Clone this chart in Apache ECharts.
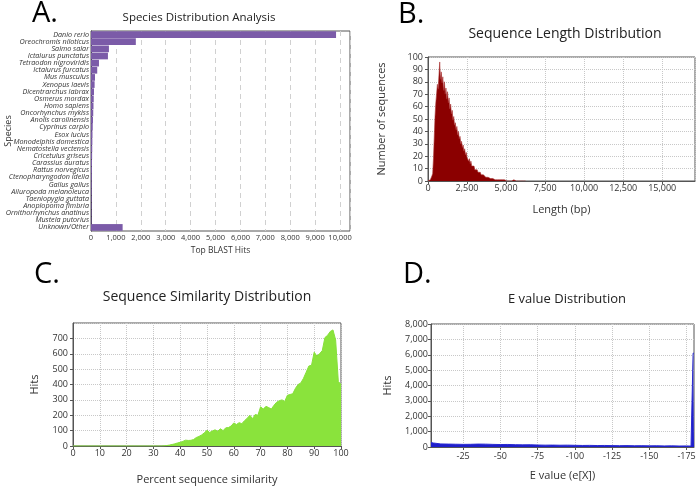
<!DOCTYPE html>
<html><head><meta charset="utf-8">
<script src="https://cdn.jsdelivr.net/npm/echarts@6/dist/echarts.min.js"></script>
<style>html,body{margin:0;padding:0;background:#fff}#c{width:700px;height:490px}</style>
</head><body><div id="c"></div>
<script>
// ---- Panel A: species distribution ----
var species = ["Danio rerio","Oreochromis niloticus","Salmo salar","Ictalurus punctatus","Tetraodon nigroviridis","Ictalurus furcatus","Mus musculus","Xenopus laevis","Dicentrarchus labrax","Osmerus mordax","Homo sapiens","Oncorhynchus mykiss","Anolis carolinensis","Cyprinus carpio","Esox lucius","Monodelphis domestica","Nematostella vectensis","Cricetulus griseus","Carassius auratus","Rattus norvegicus","Ctenopharyngodon idella","Gallus gallus","Ailuropoda melanoleuca","Taeniopygia guttata","Anoplopoma fimbria","Ornithorhynchus anatinus","Mustela putorius","Unknown/Other"];
var speciesHits = [9840,1800,720,680,320,250,160,145,120,110,100,90,80,70,60,55,50,45,40,38,35,32,30,28,26,24,22,1270];

// ---- Panel B: sequence length histogram (bin width 50 bp, starting at 0) ----
var lengthBinWidth = 50;
var lengthCounts = [0,0,0,1,2,4,6,18,35,52,63,70,78,74,85,96,82,88,79,84,73,80,70,75,66,72,63,67,58,62,54,57,49,52,45,47,41,44,37,40,34,36,30,32,27,29,24,26,21,23,19,20,16,18,14,16,12,13,11,12,9,10,8,9,7,8,6,7,5,6,5,5,4,5,3,4,3,3,2,3,2,3,2,2,1,2,1,2,1,1,1,1,1,1,0,1,1,0,1,0,1,0,0,1,0,0,1,0,0,0,1,0,0,0,0,0,0,1,0,0,0,0,0,0,0,0];

// ---- Panel C: sequence similarity (percent 0..100) ----
var similarityPct = [0,1,2,3,4,5,6,7,8,9,10,11,12,13,14,15,16,17,18,19,20,21,22,23,24,25,26,27,28,29,30,31,32,33,34,35,36,37,38,39,40,41,42,43,44,45,46,47,48,49,50,51,52,53,54,55,56,57,58,59,60,61,62,63,64,65,66,67,68,69,70,71,72,73,74,75,76,77,78,79,80,81,82,83,84,85,86,87,88,89,90,91,92,93,94,95,96,97,98,99,100];
var similarityHits = [0,0,0,0,0,0,0,0,0,0,0,0,0,0,0,0,0,0,0,0,0,0,0,0,0,0,0,0,0,0,0,0,0,0,1,3,6,10,14,20,24,30,38,36,37,42,55,62,72,85,103,88,98,105,96,112,100,118,120,130,150,140,152,145,165,180,200,178,205,200,255,240,258,250,240,265,285,295,300,290,330,335,340,375,400,410,440,480,520,525,610,585,600,620,705,720,745,755,690,420,400];

// ---- Panel D: E value distribution ----
var eExponent = [-3.4,-5,-10,-15,-20,-25,-30,-35,-40,-45,-50,-55,-60,-65,-70,-75,-80,-85,-90,-95,-100,-105,-110,-115,-120,-125,-130,-135,-140,-145,-150,-155,-160,-165,-170,-175,-178,-179,-179.4,-180];
var eHits = [290,260,200,190,180,170,175,190,185,170,160,165,150,140,145,130,120,125,115,120,110,100,105,95,100,90,85,90,80,85,75,80,70,75,65,70,60,80,6100,6100];
var eTicks = [-25,-50,-75,-100,-125,-150,-175];

var FONT = "Open Sans";
var fmt = function(v){ return Number(v).toLocaleString('en-US'); };
var lab = function(size, margin){ return {fontFamily: FONT, fontSize: size, color: '#333', margin: margin}; };
var border = {show: true, borderColor: '#555', borderWidth: 1, containLabel: false, outerBoundsMode: 'none'};

var chart = echarts.init(document.getElementById('c'), null, {renderer: 'canvas'});
chart.setOption({
  animation: false,
  textStyle: {fontFamily: FONT},
  title: [
    {text: 'Species Distribution Analysis', left: 194, top: 7, textAlign: 'center', textStyle: {fontFamily: FONT, fontSize: 11.5, fontWeight: 'normal', color: '#222'}},
    {text: 'Sequence Length Distribution', left: 560, top: 22, textAlign: 'center', textStyle: {fontFamily: FONT, fontSize: 14, fontWeight: 'normal', color: '#222'}},
    {text: 'Sequence Similarity Distribution', left: 202, top: 285, textAlign: 'center', textStyle: {fontFamily: FONT, fontSize: 14, fontWeight: 'normal', color: '#222'}},
    {text: 'E value Distribution', left: 562, top: 288, textAlign: 'center', textStyle: {fontFamily: FONT, fontSize: 13, fontWeight: 'normal', color: '#222'}}
  ],
  graphic: [
    {type: 'text', left: 32, top: -1, style: {text: 'A.', font: '29px "Open Sans"', fill: '#000'}},
    {type: 'text', left: 398, top: 0, style: {text: 'B.', font: '29px "Open Sans"', fill: '#000'}},
    {type: 'text', left: 34, top: 260, style: {text: 'C.', font: '29px "Open Sans"', fill: '#000'}},
    {type: 'text', left: 403, top: 260, style: {text: 'D.', font: '29px "Open Sans"', fill: '#000'}}
  ],
  grid: [
    Object.assign({left: 91, top: 31, width: 259, height: 200}, border),
    Object.assign({left: 428, top: 57, width: 267, height: 124}, border),
    Object.assign({left: 73, top: 323, width: 268, height: 123}, border),
    Object.assign({left: 431, top: 324, width: 263, height: 123}, border)
  ],
  xAxis: [
    {gridIndex: 0, type: 'value', min: 0, max: 10400, interval: 1000, nameMoveOverlap: false,
     name: 'Top BLAST Hits', nameLocation: 'middle', nameGap: 15, nameTextStyle: {fontFamily: FONT, fontSize: 8.5, color: '#333'},
     axisLine: {lineStyle: {color: '#555'}}, axisTick: {show: false},
     axisLabel: Object.assign(lab(7.5, 3), {formatter: fmt, showMaxLabel: false}),
     splitLine: {show: true, lineStyle: {type: [5, 4], color: '#d0d0d0'}}},
    {gridIndex: 1, type: 'value', min: 0, max: 17100, interval: 2500, nameMoveOverlap: false,
     name: 'Length (bp)', nameLocation: 'middle', nameGap: 23, nameTextStyle: {fontFamily: FONT, fontSize: 11, color: '#333'},
     axisLine: {lineStyle: {color: '#555'}}, axisTick: {show: true, length: 3, lineStyle: {color: '#555'}},
     axisLabel: Object.assign(lab(9, 3), {formatter: fmt, showMaxLabel: false}),
     splitLine: {show: true, lineStyle: {type: 'dotted', color: '#c8c8c8'}}},
    {gridIndex: 2, type: 'value', min: 0, max: 100, interval: 10, nameMoveOverlap: false,
     name: 'Percent sequence similarity', nameLocation: 'middle', nameGap: 28, nameTextStyle: {fontFamily: FONT, fontSize: 11, color: '#333'},
     axisLine: {lineStyle: {color: '#555'}}, axisTick: {show: true, length: 3, lineStyle: {color: '#555'}},
     axisLabel: lab(9, 3),
     splitLine: {show: true, lineStyle: {type: 'dotted', color: '#c8c8c8'}}},
    {gridIndex: 3, type: 'value', min: -180, max: -3.4, inverse: true, nameMoveOverlap: false,
     name: 'E value (e[X])', nameLocation: 'middle', nameGap: 23, nameTextStyle: {fontFamily: FONT, fontSize: 11, color: '#333'},
     axisLine: {lineStyle: {color: '#555'}}, axisTick: {show: true, length: 3, customValues: eTicks, lineStyle: {color: '#555'}},
     axisLabel: Object.assign(lab(9, 5), {customValues: eTicks}),
     splitLine: {show: true, lineStyle: {type: 'dotted', color: '#c8c8c8'}}}
  ],
  yAxis: [
    {gridIndex: 0, type: 'category', data: species, inverse: true, nameMoveOverlap: false,
     name: 'Species', nameLocation: 'middle', nameGap: 78, nameRotate: 90, nameTextStyle: {fontFamily: FONT, fontSize: 9, color: '#333'},
     axisLine: {lineStyle: {color: '#333'}}, axisTick: {show: false},
     axisLabel: Object.assign(lab(7.2, 2), {fontStyle: 'italic', interval: 0}),
     splitLine: {show: false}},
    {gridIndex: 1, type: 'value', min: 0, max: 100, interval: 10, nameMoveOverlap: false,
     name: 'Number of sequences', nameLocation: 'middle', nameGap: 41, nameTextStyle: {fontFamily: FONT, fontSize: 11, color: '#333'},
     axisLine: {lineStyle: {color: '#555'}}, axisTick: {show: true, length: 3, lineStyle: {color: '#555'}},
     axisLabel: lab(9, 5),
     splitLine: {show: true, lineStyle: {type: 'dotted', color: '#c8c8c8'}}},
    {gridIndex: 2, type: 'value', min: 0, max: 800, interval: 100, nameMoveOverlap: false,
     name: 'Hits', nameLocation: 'middle', nameGap: 33, nameTextStyle: {fontFamily: FONT, fontSize: 11, color: '#333'},
     axisLine: {lineStyle: {color: '#555'}}, axisTick: {show: true, length: 3, lineStyle: {color: '#555'}},
     axisLabel: Object.assign(lab(9, 5), {showMaxLabel: false}),
     splitLine: {show: true, lineStyle: {type: 'dotted', color: '#c8c8c8'}}},
    {gridIndex: 3, type: 'value', min: 0, max: 8000, interval: 1000, nameMoveOverlap: false,
     name: 'Hits', nameLocation: 'middle', nameGap: 38, nameTextStyle: {fontFamily: FONT, fontSize: 11, color: '#333'},
     axisLine: {lineStyle: {color: '#555'}}, axisTick: {show: true, length: 3, lineStyle: {color: '#555'}},
     axisLabel: Object.assign(lab(9, 3), {formatter: fmt}),
     splitLine: {show: true, lineStyle: {type: 'dotted', color: '#c8c8c8'}}}
  ],
  series: [
    {type: 'bar', xAxisIndex: 0, yAxisIndex: 0, data: speciesHits, barCategoryGap: '6%',
     itemStyle: {color: '#7b5ba8'}},
    {type: 'line', xAxisIndex: 1, yAxisIndex: 1, showSymbol: false, symbol: 'none',
     data: lengthCounts.map(function(v, i){ return [i * lengthBinWidth, v]; }),
     lineStyle: {color: '#a83030', width: 0.6}, areaStyle: {color: '#8b0000', opacity: 1}},
    {type: 'line', xAxisIndex: 2, yAxisIndex: 2, showSymbol: false, symbol: 'none',
     data: similarityPct.map(function(p, i){ return [p, similarityHits[i]]; }),
     lineStyle: {color: '#86e03a', width: 1}, areaStyle: {color: '#8ae33c', opacity: 1}},
    {type: 'line', xAxisIndex: 3, yAxisIndex: 3, showSymbol: false, symbol: 'none',
     data: eExponent.map(function(e, i){ return [e, eHits[i]]; }),
     lineStyle: {color: '#2a2ad0', width: 1}, areaStyle: {color: '#1f1fcc', opacity: 1}}
  ]
});
</script></body></html>
